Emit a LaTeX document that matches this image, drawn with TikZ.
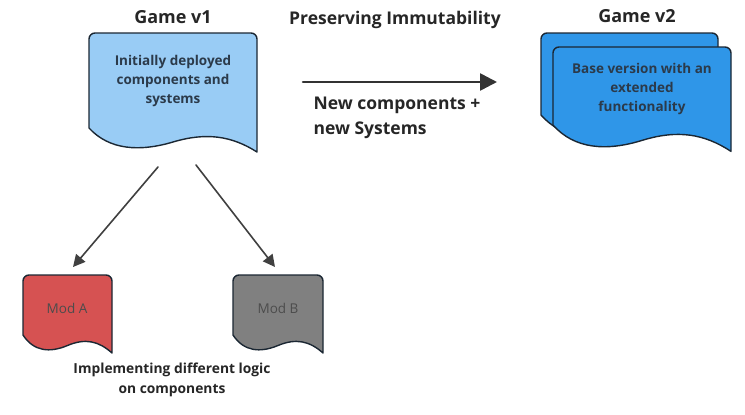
\documentclass[tikz,border=0pt]{standalone}
\usepackage{fontspec}
\setmainfont{Open Sans}
\usepackage{tikz}
\usetikzlibrary{arrows.meta}
\definecolor{lightdoc}{HTML}{99CCF5}
\definecolor{darkdoc}{HTML}{2F96E8}
\definecolor{reddoc}{HTML}{D65252}
\definecolor{graydoc}{HTML}{808080}
\definecolor{inktext}{HTML}{2B3A4A}
\definecolor{strokecol}{HTML}{1B2733}
% wavy document: x0, top, x1, left bottom, wave amplitude
\newcommand{\wavedoc}[5]{(#1,#4) -- (#1,{#2+6}) arc (180:270:6) -- ({#3-6},#2) arc (270:360:6) -- (#3,{#4+24*#5})
  .. controls ({#1+0.85*(#3-#1)},{#4+8*#5}) and ({#1+0.7*(#3-#1)},{#4+4*#5}) .. ({#1+0.5*(#3-#1)},{#4+14*#5})
  .. controls ({#1+0.3*(#3-#1)},{#4+24*#5}) and ({#1+0.12*(#3-#1)},{#4+22*#5}) .. (#1,#4)}

\begin{document}
\begin{tikzpicture}[line cap=round,line join=round,x=1pt,y=-1pt,
  docshape/.style={draw=strokecol,line width=1.4pt},
  title/.style={font=\fontsize{18}{21}\selectfont\bfseries,text=black!85},
  doctext/.style={align=center,font=\fontsize{13.5}{19}\selectfont\bfseries,text=inktext},
  modtext/.style={font=\fontsize{13.5}{15}\selectfont,text=black!70},
  note/.style={font=\fontsize{17.5}{25}\selectfont\bfseries,text=black!85},
  link/.style={-{Triangle[length=12pt,width=12pt]},line width=1.6pt,color=black!75}]
\useasboundingbox (0,0) rectangle (745,415);

% game v1
\filldraw[docshape,fill=lightdoc] \wavedoc{89}{33}{257}{128}{1} -- cycle;
\node[title] (v1title) at (173,17) {Game v1};
\node[doctext] (v1text) at (173,81) {Initially deployed\\components and\\systems};

% game v2, two stacked sheets
\filldraw[docshape,fill=darkdoc] \wavedoc{541}{33}{718}{115}{1.1} -- cycle;
\filldraw[docshape,fill=darkdoc] \wavedoc{553}{47}{731}{125}{1.1} -- cycle;
\node[title] (v2title) at (637,16) {Game v2};
\node[doctext] (v2text) at (642,89) {Base version with an\\extended\\functionality};

% upgrade arrow
\node[note] (immut) at (395,20) {Preserving Immutability};
\coordinate (upstart) at (303,82);
\coordinate (upend) at (497,82);
\draw[-{Triangle[length=17pt,width=17pt]},line width=2.6pt,color=black!80] (upstart) -- (upend);
\node[note,align=left,anchor=north west] (newstuff) at (310,93) {New components +\\new Systems};

% mods
\filldraw[docshape,fill=reddoc] \wavedoc{23}{275}{112}{335}{0.75} -- cycle;
\filldraw[docshape,fill=graydoc] \wavedoc{233}{275}{323}{335}{0.75} -- cycle;
\node[modtext] (modA) at (67,308) {Mod A};
\node[modtext] (modB) at (278,308) {Mod B};
\node[note,align=center,font=\fontsize{13.8}{20}\selectfont\bfseries] (logic) at (172,380) {Implementing different logic\\on components};

\coordinate (v1left) at (158,167);
\coordinate (v1right) at (196,165);
\coordinate (modAin) at (73,267);
\coordinate (modBin) at (275,267);
\draw[link] (v1left) -- (modAin);
\draw[link] (v1right) -- (modBin);
\end{tikzpicture}
\end{document}
